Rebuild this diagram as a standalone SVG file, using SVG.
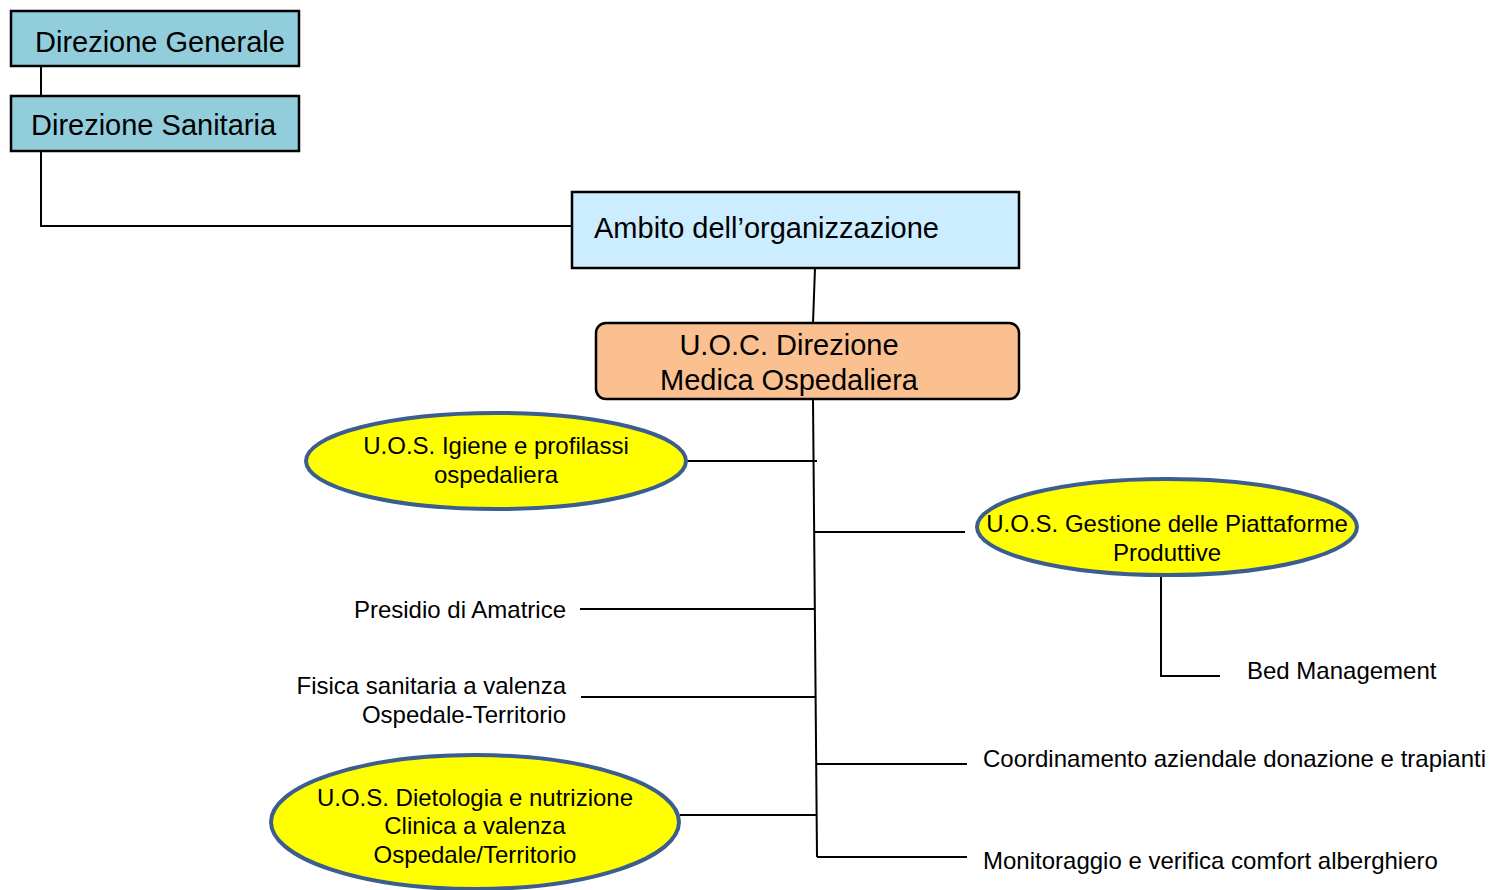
<svg xmlns="http://www.w3.org/2000/svg" width="1489" height="890" viewBox="0 0 1489 890">
<style>
text{font-family:"Liberation Sans",Arial,sans-serif;fill:#000}
.box{stroke:#000;stroke-width:2.5}
.ell{fill:#FFFF00;stroke:#3C5E8E;stroke-width:4}
.big{font-size:29px}
.sm{font-size:24px}
.c{stroke:#000;stroke-width:2;fill:none}
</style>
<rect width="1489" height="890" fill="#fff"/>
<g id="connectors">
<path class="c" d="M41,66V96M41,151V226H572"/>
<path class="c" d="M815,268L813,323"/>
<path class="c" d="M813,399L817,857"/>
<path class="c" d="M686,461H817"/>
<path class="c" d="M815,532H965"/>
<path class="c" d="M1161,577V676H1220"/>
<path class="c" d="M580,609H814"/>
<path class="c" d="M581,697H815"/>
<path class="c" d="M680,815H816"/>
<path class="c" d="M817,764H967"/>
<path class="c" d="M817,857H967"/>
</g>
<g id="dg"><rect class="box" x="11" y="11" width="288" height="55" fill="#92CDDC"/><text class="big" x="35" y="52">Direzione Generale</text></g>
<g id="ds"><rect class="box" x="11" y="96" width="288" height="55" fill="#92CDDC"/><text class="big" x="31" y="135">Direzione Sanitaria</text></g>
<g id="ambito"><rect class="box" x="572" y="192" width="447" height="76" fill="#CCECFF"/><text class="big" x="594" y="238">Ambito dell’organizzazione</text></g>
<g id="uoc"><rect class="box" x="596" y="323" width="423" height="76" rx="10" fill="#FAC090"/><text class="big" text-anchor="middle"><tspan x="789" y="355">U.O.C. Direzione</tspan><tspan x="789" y="390">Medica Ospedaliera</tspan></text></g>
<g id="igiene"><ellipse class="ell" cx="496" cy="461" rx="190" ry="48"/><text class="sm" text-anchor="middle"><tspan x="496" y="454">U.O.S. Igiene e profilassi</tspan><tspan x="496" y="483">ospedaliera</tspan></text></g>
<g id="piattaforme"><ellipse class="ell" cx="1167" cy="527" rx="190" ry="48"/><text class="sm" text-anchor="middle"><tspan x="1167" y="532">U.O.S. Gestione delle Piattaforme</tspan><tspan x="1167" y="561">Produttive</tspan></text></g>
<g id="bed"><text class="sm" x="1247" y="679">Bed Management</text></g>
<g id="presidio"><text class="sm" x="566" y="618" text-anchor="end">Presidio di Amatrice</text></g>
<g id="fisica"><text class="sm" text-anchor="end"><tspan x="566" y="694">Fisica sanitaria a valenza</tspan><tspan x="566" y="723">Ospedale-Territorio</tspan></text></g>
<g id="dietologia"><ellipse class="ell" cx="475" cy="822" rx="204" ry="67"/><text class="sm" text-anchor="middle"><tspan x="475" y="806">U.O.S. Dietologia e nutrizione</tspan><tspan x="475" y="834">Clinica a valenza</tspan><tspan x="475" y="863">Ospedale/Territorio</tspan></text></g>
<g id="coord"><text class="sm" x="983" y="767">Coordinamento aziendale donazione e trapianti</text></g>
<g id="monit"><text class="sm" x="983" y="869">Monitoraggio e verifica comfort alberghiero</text></g>
</svg>
